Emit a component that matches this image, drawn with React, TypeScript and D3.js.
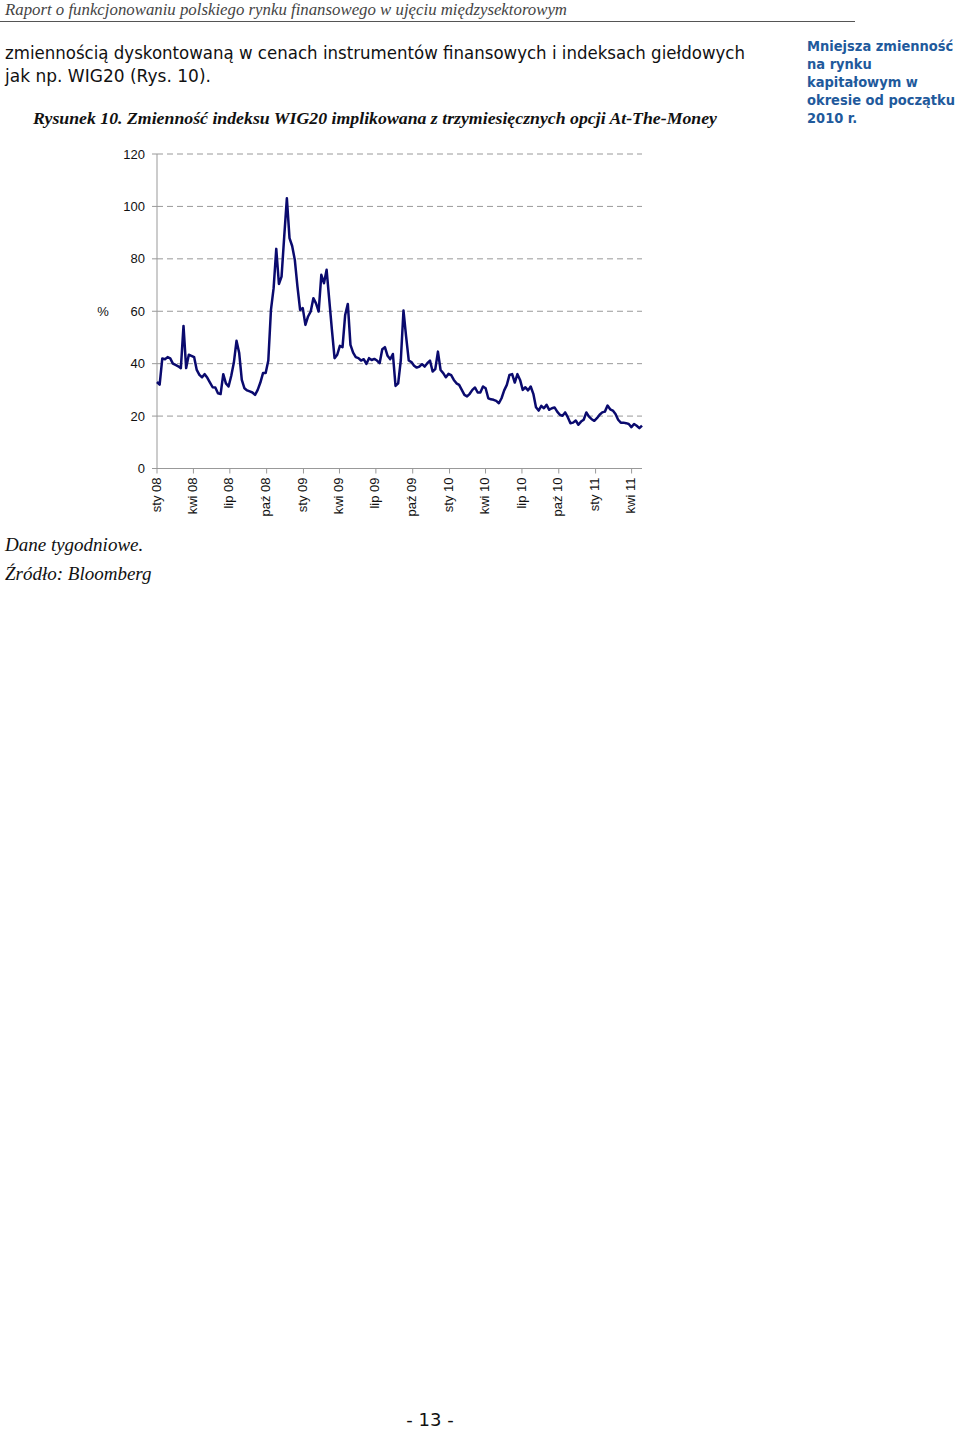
import React, { useEffect, useRef } from 'react';
import * as d3 from 'd3';

// weekly implied volatility of WIG20 (%), Jan 2008 - Apr 2011
const volatility = [
  33, 32, 42, 41.7, 42.5, 42, 40, 39.5, 39, 38.3,
  54.4, 38.3, 43.4, 43, 42.5, 37.6, 35.7, 34.8, 36, 34.6,
  32.8, 31, 30.9, 28.7, 28.4, 36, 32.5, 31.3, 35.3, 40.4,
  48.7, 44.2, 33.8, 30.6, 29.8, 29.4, 29, 28.1, 30, 32.8,
  36.4, 36.4, 41.2, 60.5, 68.8, 83.8, 70.4, 73.2, 88.5, 103.1,
  87.9, 84.9, 79.6, 69.4, 60.5, 61.2, 54.8, 58, 59.9, 65,
  63, 59.9, 73.9, 70.7, 75.8, 64.3, 52.9, 42.1, 43.4, 46.8,
  46.3, 58.6, 62.8, 47.2, 44.2, 42.5, 42.1, 41.2, 41.7, 39.9,
  42.1, 41.4, 41.8, 41.2, 40.2, 45.5, 46.3, 43, 41.7, 43.7,
  31.5, 32.5, 41.4, 60.3, 50.3, 41.2, 40.6, 39.2, 38.5, 38.9,
  39.8, 38.9, 40.2, 41.2, 37, 37.9, 44.6, 37.6, 36.4, 34.8,
  36.1, 35.6, 33.8, 32.5, 31.9, 30, 28.1, 27.5, 28.5, 30,
  30.9, 29, 29, 31.3, 30.6, 26.8, 26.4, 26.2, 25.8, 24.9,
  26.8, 29.8, 31.9, 35.7, 36, 32.8, 36, 33.8, 30, 31,
  29.8, 31.3, 28.5, 23.4, 22.1, 23.9, 23, 24.3, 22.4, 23,
  23.3, 21.7, 20.5, 20.1, 21.4, 19.6, 17.3, 17.5, 18.3, 16.7,
  17.9, 18.6, 21.4, 19.8, 18.8, 18.2, 19.2, 20.5, 21.4, 21.7,
  24, 22.6, 22.1, 20.8, 18.6, 17.5, 17.5, 17.3, 17, 15.8,
  17, 16.3, 15.4, 16.4,
];

const tickLabels = [
  'sty 08', 'kwi 08', 'lip 08', 'paź 08',
  'sty 09', 'kwi 09', 'lip 09', 'paź 09',
  'sty 10', 'kwi 10', 'lip 10', 'paź 10',
  'sty 11', 'kwi 11',
];
const tickDates = [
  '2008-01-01', '2008-04-01', '2008-07-01', '2008-10-01',
  '2009-01-01', '2009-04-01', '2009-07-01', '2009-10-01',
  '2010-01-01', '2010-04-01', '2010-07-01', '2010-10-01',
  '2011-01-01', '2011-04-01',
];
const yTicks = [0, 20, 40, 60, 80, 100, 120];

const sidebarLines = ['Mniejsza zmienność', 'na rynku', 'kapitałowym w', 'okresie od początku', '2010 r.'];

const App: React.FC = () => {
  const svgRef = useRef<SVGSVGElement>(null);

  useEffect(() => {
    if (!svgRef.current) return;
    const svg = d3.select(svgRef.current);
    svg.selectAll('*').remove();

    const left = 157;
    const right = 642;
    const top = 154;
    const bottom = 468.5;
    const parse = d3.timeParse('%Y-%m-%d');

    const xTime = d3.scaleTime()
      .domain([parse('2008-01-01')!, parse('2011-04-27')!])
      .range([left, right]);
    const xIdx = d3.scaleLinear().domain([0, volatility.length - 1]).range([left, right]);
    const y = d3.scaleLinear().domain([0, 120]).range([bottom, top]);

    const sans = 'Liberation Sans, Arial, sans-serif';
    const serif = 'Liberation Serif, Times New Roman, serif';
    const body = 'DejaVu Sans, Tahoma, sans-serif';

    // running head
    svg.append('text')
      .attr('x', 5).attr('y', 15)
      .attr('font-family', serif).attr('font-style', 'italic').attr('font-size', 17)
      .attr('fill', '#444')
      .attr('textLength', 562).attr('lengthAdjust', 'spacingAndGlyphs')
      .text('Raport o funkcjonowaniu polskiego rynku finansowego w ujęciu międzysektorowym');
    svg.append('line')
      .attr('x1', 0).attr('x2', 855).attr('y1', 21.5).attr('y2', 21.5)
      .attr('stroke', '#555').attr('stroke-width', 1);

    // body text
    svg.append('text')
      .attr('x', 5).attr('y', 59)
      .attr('font-family', body).attr('font-size', 18).attr('fill', '#111')
      .attr('textLength', 740).attr('lengthAdjust', 'spacingAndGlyphs')
      .text('zmiennością dyskontowaną w cenach instrumentów finansowych i indeksach giełdowych');
    svg.append('text')
      .attr('x', 5).attr('y', 82)
      .attr('font-family', body).attr('font-size', 18).attr('fill', '#111')
      .attr('textLength', 206).attr('lengthAdjust', 'spacingAndGlyphs')
      .text('jak np. WIG20 (Rys. 10).');

    // caption
    svg.append('text')
      .attr('x', 33).attr('y', 124)
      .attr('font-family', serif).attr('font-style', 'italic').attr('font-weight', 'bold')
      .attr('font-size', 17).attr('fill', '#111')
      .attr('textLength', 684).attr('lengthAdjust', 'spacingAndGlyphs')
      .text('Rysunek 10. Zmienność indeksu WIG20 implikowana z trzymiesięcznych opcji At-The-Money');

    // margin note
    svg.append('g').selectAll('text').data(sidebarLines).join('text')
      .attr('x', 807).attr('y', (_, i) => 51 + i * 18)
      .attr('font-family', 'DejaVu Sans Condensed, DejaVu Sans, sans-serif')
      .attr('font-weight', 'bold').attr('font-size', 14.5)
      .attr('fill', '#1f5a9c')
      .text(d => d);

    // gridlines
    svg.append('g').selectAll('line').data(yTicks.filter(v => v > 0)).join('line')
      .attr('x1', left).attr('x2', right)
      .attr('y1', d => y(d)).attr('y2', d => y(d))
      .attr('stroke', '#999').attr('stroke-width', 1).attr('stroke-dasharray', '6,4');

    // y axis
    svg.append('line')
      .attr('x1', left).attr('x2', left).attr('y1', top).attr('y2', bottom)
      .attr('stroke', '#999');
    svg.append('g').selectAll('line').data(yTicks).join('line')
      .attr('x1', left - 5).attr('x2', left)
      .attr('y1', d => y(d)).attr('y2', d => y(d))
      .attr('stroke', '#999');
    svg.append('g').selectAll('text').data(yTicks).join('text')
      .attr('x', 145).attr('y', d => y(d)).attr('dy', '0.35em')
      .attr('text-anchor', 'end')
      .attr('font-family', sans).attr('font-size', 13).attr('fill', '#111')
      .text(d => d);
    svg.append('text')
      .attr('x', 103).attr('y', y(60)).attr('dy', '0.35em')
      .attr('text-anchor', 'middle')
      .attr('font-family', sans).attr('font-size', 13).attr('fill', '#111')
      .text('%');

    // x axis
    svg.append('line')
      .attr('x1', left).attr('x2', right).attr('y1', bottom).attr('y2', bottom)
      .attr('stroke', '#999');
    const ticks = tickDates.map((d, i) => ({ date: parse(d)!, label: tickLabels[i] }));
    svg.append('g').selectAll('line').data(ticks).join('line')
      .attr('x1', d => xTime(d.date)).attr('x2', d => xTime(d.date))
      .attr('y1', bottom).attr('y2', bottom + 5)
      .attr('stroke', '#999');
    svg.append('g').selectAll('text').data(ticks).join('text')
      .attr('transform', d => `translate(${xTime(d.date) - 1},${bottom + 9}) rotate(-90)`)
      .attr('dy', '0.35em')
      .attr('text-anchor', 'end')
      .attr('font-family', sans).attr('font-size', 13).attr('fill', '#111')
      .text(d => d.label);

    // series
    const line = d3.line<number>()
      .x((_, i) => xIdx(i))
      .y(d => y(d));
    svg.append('path')
      .datum(volatility)
      .attr('d', line)
      .attr('fill', 'none')
      .attr('stroke', '#0a0a6e')
      .attr('stroke-width', 2.5)
      .attr('stroke-linejoin', 'round');

    // notes
    svg.append('text')
      .attr('x', 5).attr('y', 551)
      .attr('font-family', serif).attr('font-style', 'italic').attr('font-size', 19).attr('fill', '#111')
      .text('Dane tygodniowe.');
    svg.append('text')
      .attr('x', 5).attr('y', 580)
      .attr('font-family', serif).attr('font-style', 'italic').attr('font-size', 19).attr('fill', '#111')
      .text('Źródło: Bloomberg');

    // page number
    svg.append('text')
      .attr('x', 430).attr('y', 1426)
      .attr('text-anchor', 'middle')
      .attr('font-family', body).attr('font-size', 18).attr('fill', '#111')
      .text('- 13 -');
  }, []);

  return (
    <svg
      ref={svgRef}
      width={960}
      height={1430}
      style={{ position: 'absolute', left: 0, top: 0, background: '#fff' }}
    />
  );
};

export default App;
